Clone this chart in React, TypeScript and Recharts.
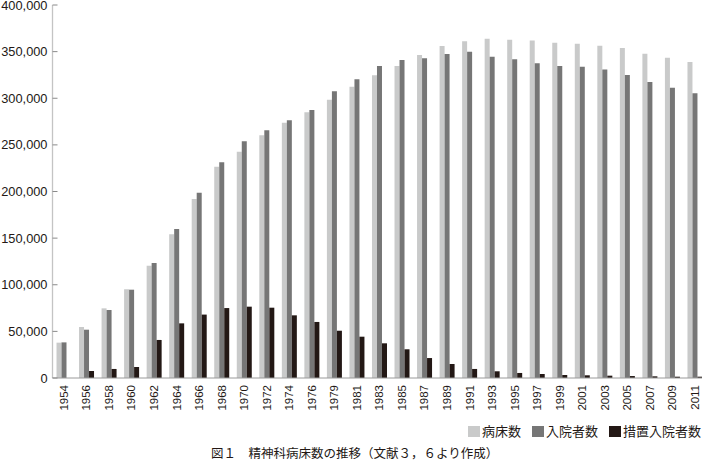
import React from 'react';
import { BarChart, Bar, XAxis, YAxis } from 'recharts';

const years = ['1954','1956','1958','1960','1962','1964','1966','1968','1970','1972','1974','1976','1979','1981','1983','1985','1987','1989','1991','1993','1995','1997','1999','2001','2003','2005','2007','2009','2011'];
const beds = [37900,54700,74700,95100,120400,154100,192000,226600,242700,260200,273800,284900,298500,312400,324600,334600,346400,356000,361000,363900,362800,361800,359600,358500,356400,353900,347800,343500,338900];
const inpatients = [38200,51800,72900,94700,123300,159800,198700,231300,253800,265600,276300,287400,307400,320300,334600,341000,342800,347500,350000,344600,341700,337400,334600,333900,330700,324900,317400,311300,305300];
const involuntary = [null,7500,9700,11800,40800,58600,68000,75000,76500,75400,67200,60100,50700,44300,37200,30800,21400,15000,9700,7200,5400,4300,3200,2900,2500,2100,1800,1400,1400];
const yTicks = [0,50000,100000,150000,200000,250000,300000,350000,400000];
const seriesNames = ['病床数','入院者数','措置入院者数'];
const caption = '図１　精神科病床数の推移（文献３，６より作成）';

const data = years.map((y, i) => ({ year: y, beds: beds[i], inpatients: inpatients[i], involuntary: involuntary[i] }));

const TEXT = '#231815';
const COLORS = ['#c9caca', '#767676', '#231815'];

const YTick = (props: any) => {
  const { x, y, payload } = props;
  const v = Number(payload.value);
  const label = v.toLocaleString('en-US');
  return (
    <g>
      <line x1={x + 5} x2={x + 10} y1={y} y2={y} stroke="#8a8a8a" strokeWidth={1} />
      <text x={x} y={y} dy="0.36em" textAnchor="end" fontSize={12.8} fontFamily="'Liberation Sans', Arial, sans-serif" fill={TEXT}>{label}</text>
    </g>
  );
};

const XTick = (props: any) => {
  const { x, y, payload } = props;
  return (
    <text x={x} y={y} dy="0.36em" textAnchor="end" transform={`rotate(-90, ${x}, ${y})`} fontSize={11.5} fontFamily="'Liberation Sans', Arial, sans-serif" fill={TEXT}>{payload.value}</text>
  );
};

export default function App() {
  return (
    <div style={{ position: 'absolute', left: 0, top: 0, width: 702, height: 461, overflow: 'hidden', background: '#fff' }}>
      <BarChart width={706} height={461} data={data} margin={{ top: 5, right: 0, bottom: 0, left: 0.5 }} barGap={0} barSize={5}>
        <YAxis
          width={52}
          domain={[0, 400000]}
          ticks={yTicks}
          interval={0}
          axisLine={{ stroke: '#c4c4c4', strokeWidth: 1.3 }}
          tickLine={false}
          tickSize={0}
          tickMargin={5}
          tick={<YTick />}
        />
        <XAxis
          dataKey="year"
          height={83}
          interval={0}
          axisLine={{ stroke: '#9a9a9a', strokeWidth: 1 }}
          tickLine={false}
          tickSize={0}
          tickMargin={7}
          tick={<XTick />}
        />
        <Bar dataKey="beds" name={seriesNames[0]} fill={COLORS[0]} isAnimationActive={false} />
        <Bar dataKey="inpatients" name={seriesNames[1]} fill={COLORS[1]} isAnimationActive={false} />
        <Bar dataKey="involuntary" name={seriesNames[2]} fill={COLORS[2]} isAnimationActive={false} />
      </BarChart>
      <div style={{ position: 'absolute', left: 468, top: 424, display: 'flex', alignItems: 'center', fontFamily: "'Noto Sans CJK JP', sans-serif", fontSize: 13, color: TEXT, whiteSpace: 'nowrap' }}>
        {seriesNames.map((n, i) => (
          <div key={n} style={{ display: 'flex', alignItems: 'center', marginRight: i < seriesNames.length - 1 ? 11 : 0 }}>
            <div style={{ width: 12, height: 11, background: COLORS[i], marginRight: 2 }} />
            <span style={{ lineHeight: '14px' }}>{n}</span>
          </div>
        ))}
      </div>
      <div style={{ position: 'absolute', left: 211, top: 445, fontFamily: "'Noto Sans CJK JP', sans-serif", fontSize: 12.5, color: TEXT, whiteSpace: 'nowrap', lineHeight: '16px' }}>
        {caption}
      </div>
    </div>
  );
}
